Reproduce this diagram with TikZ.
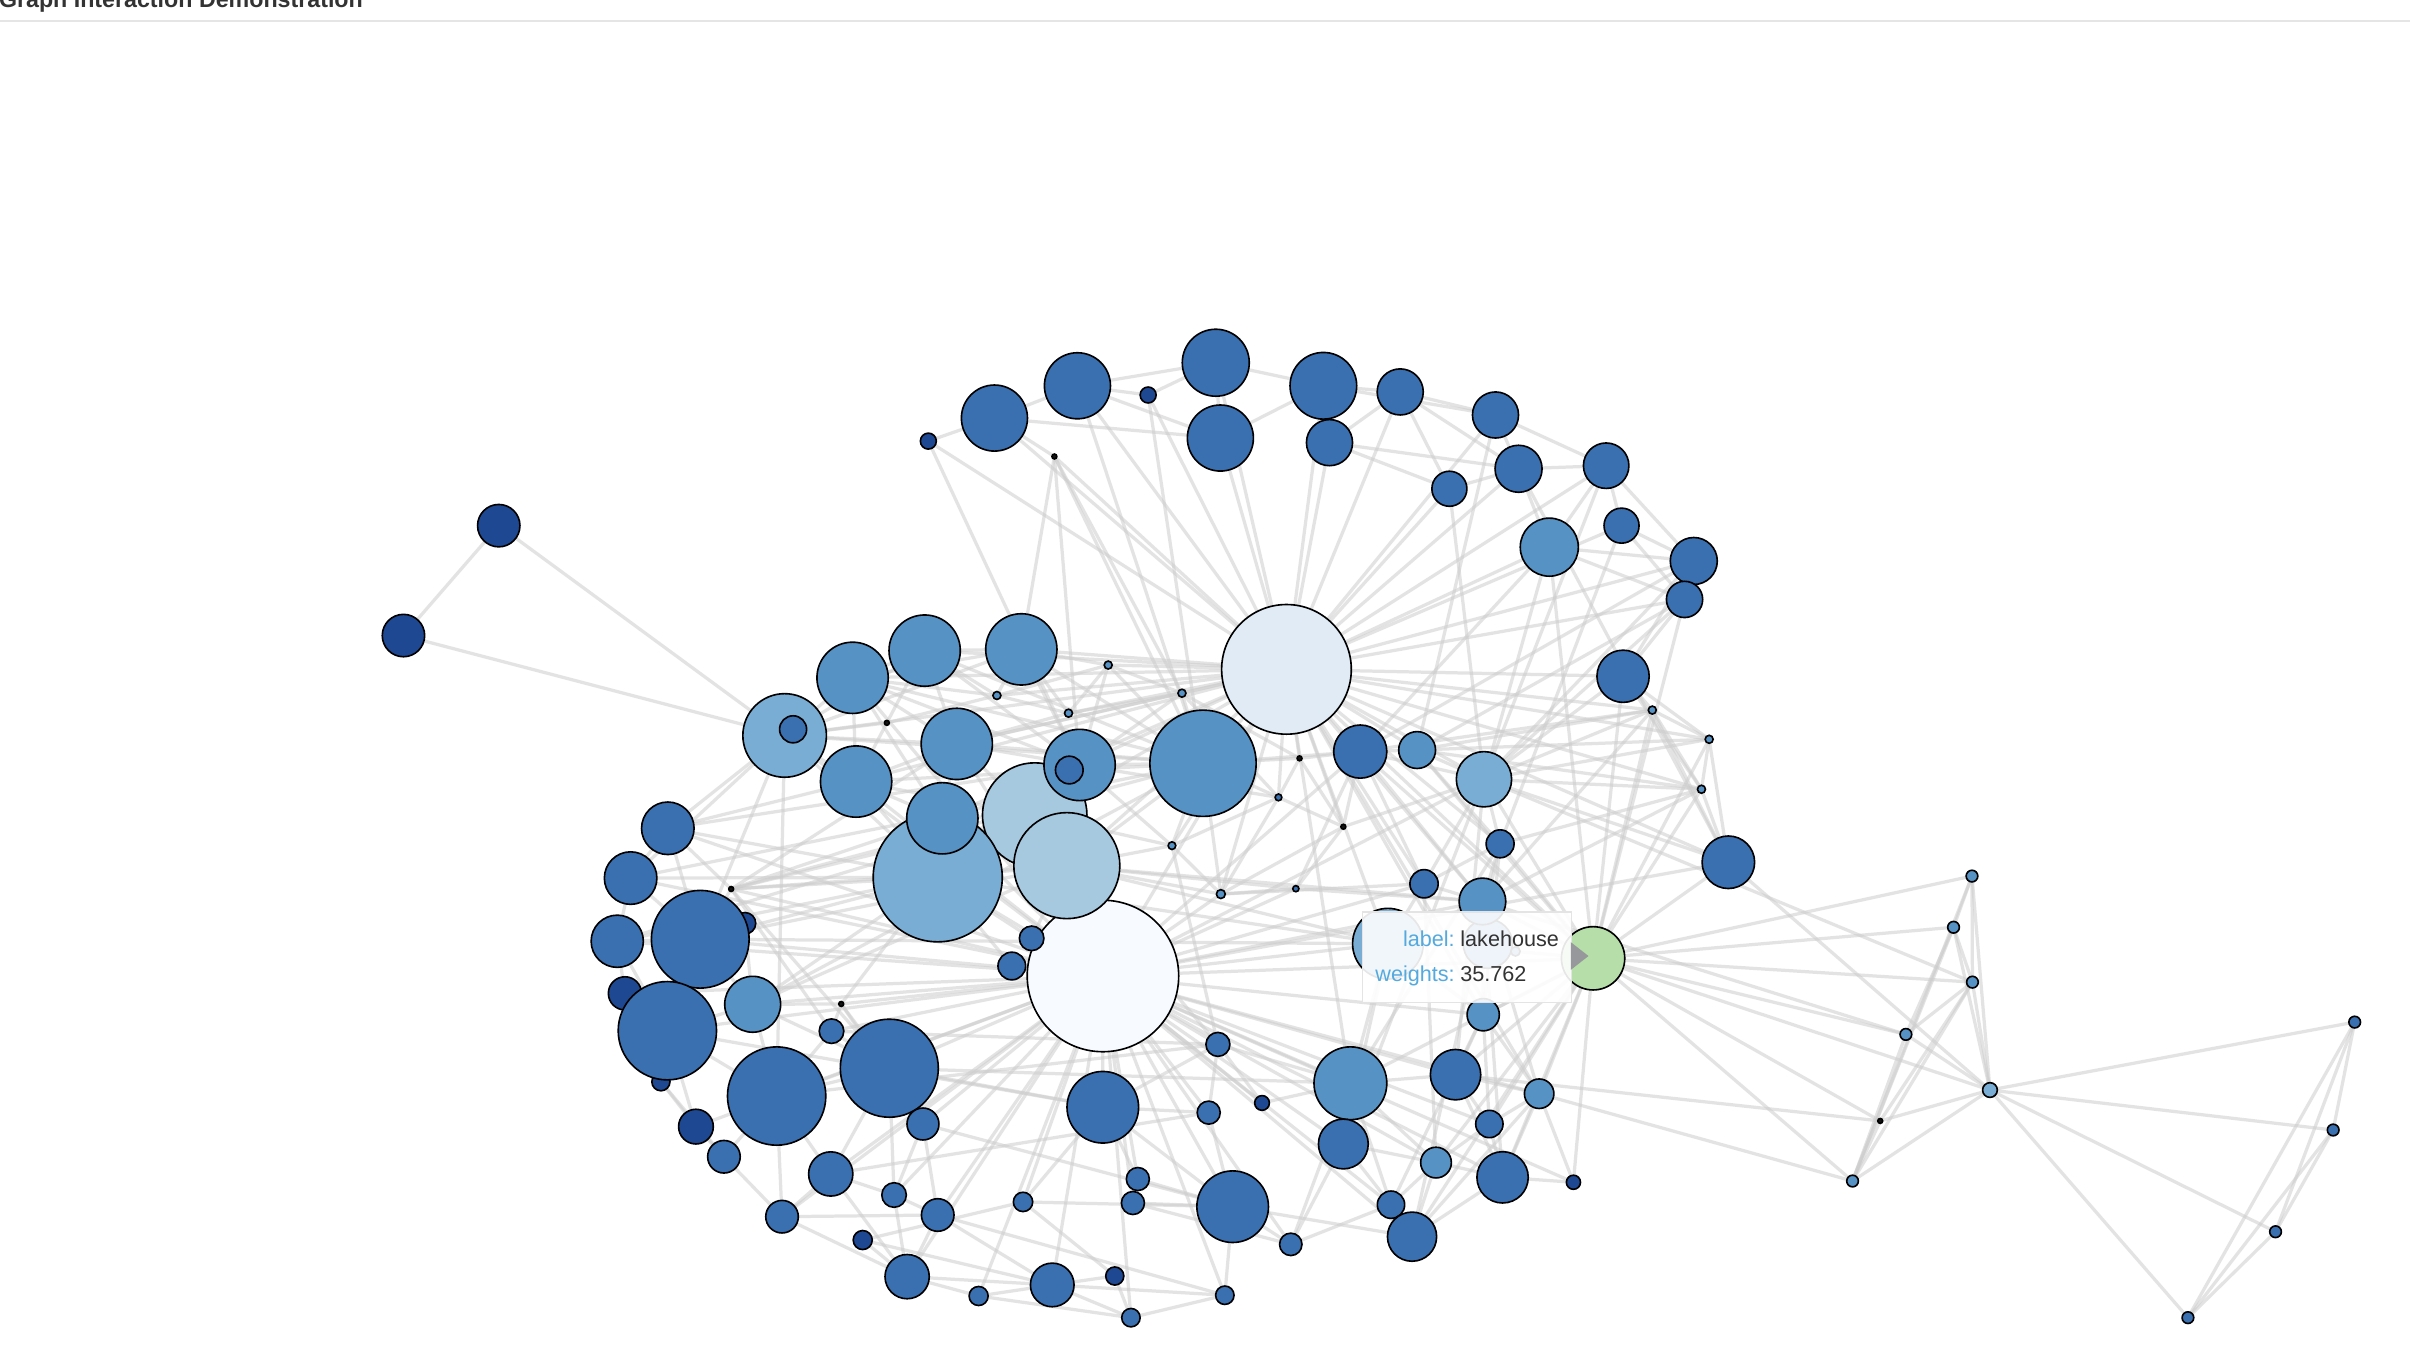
\documentclass[tikz,border=0pt]{standalone}
\usepackage{fontspec}
\setmainfont{Liberation Sans}
\usetikzlibrary{backgrounds}
\definecolor{cN}{RGB}{30,72,145}
\definecolor{cB}{RGB}{58,112,176}
\definecolor{cM}{RGB}{86,146,196}
\definecolor{cL}{RGB}{122,173,211}
\definecolor{cV}{RGB}{166,201,224}
\definecolor{cP}{RGB}{224,235,245}
\definecolor{cW}{RGB}{247,251,255}
\definecolor{cG}{RGB}{182,222,168}
\definecolor{cK}{RGB}{20,20,20}
\definecolor{edgecol}{RGB}{205,205,205}
\definecolor{tipblue}{RGB}{84,169,222}
\definecolor{tiptext}{RGB}{51,51,51}
\definecolor{ruleg}{RGB}{229,229,229}
\definecolor{tiparrow}{RGB}{150,152,156}
\pgfdeclarelayer{bg}
\pgfdeclarelayer{edges}
\pgfsetlayers{bg,edges,main}
\tikzset{
  gn/.style={circle,draw=black,line width=0.6pt,inner sep=0pt,outer sep=0pt},
  edge/.style={draw=edgecol,line width=1.2pt,opacity=0.55},
  tiplab/.style={text=tipblue,font=\fontsize{8pt}{10pt}\selectfont,inner sep=0pt},
  tipval/.style={text=tiptext,font=\fontsize{8pt}{10pt}\selectfont,inner sep=0pt}
}
\newcommand\gnode[5]{\node[gn,fill=#5,minimum size=#4*0.04cm] (#1) at (#2,#3) {};}
\begin{document}
\begin{tikzpicture}[x=0.02cm,y=-0.02cm]
\useasboundingbox (0,0) rectangle (1568,878);
\begin{pgfonlayer}{bg}
\fill[white] (0,0) rectangle (1568,878);
\end{pgfonlayer}
% title and rule
\node[anchor=base west,inner sep=0pt,text=tiptext,font=\fontsize{8.6pt}{10pt}\selectfont\bfseries] (title) at (-1,4.8) {Graph Interaction Demonstration};
\draw[ruleg,line width=0.75pt] (0,13.8) -- (1568,13.8);
% ---------- nodes ----------
\gnode{t1}{604}{287}{5.2}{cN}
\gnode{t2}{647}{272}{21.5}{cB}
\gnode{t3}{701}{251}{21.5}{cB}
\gnode{t4}{747}{257}{5.2}{cN}
\gnode{t5}{791}{236}{21.8}{cB}
\gnode{t6}{794}{285}{21.5}{cB}
\gnode{t7}{861}{251}{21.7}{cB}
\gnode{t8}{865}{288}{15}{cB}
\gnode{t9}{911}{255}{15}{cB}
\gnode{t10}{973}{270}{15}{cB}
\gnode{t11}{943}{318}{11.4}{cB}
\gnode{t12}{988}{305}{15.3}{cB}
\gnode{t13}{1045}{303}{14.8}{cB}
\gnode{t14}{1055}{342}{11.4}{cB}
\gnode{t15}{1008}{356}{18.9}{cM}
\gnode{t16}{1102}{365}{15.3}{cB}
\gnode{t17}{1096}{390}{11.8}{cB}
\gnode{d0}{686}{297}{1.6}{cK}
\gnode{n19}{324.5}{342}{13.8}{cN}
\gnode{n20}{262.5}{413.5}{13.8}{cN}
\gnode{A}{837}{435.5}{42.2}{cP}
\gnode{n94}{903}{614}{23}{cL}
\gnode{n94b}{968}{614}{16}{cM}
\gnode{n21}{1056}{440}{17}{cB}
\gnode{n22}{885}{489}{17.3}{cB}
\gnode{n23}{922}{488}{12}{cM}
\gnode{n24}{965.5}{507}{18}{cL}
\gnode{n25}{1124.5}{561}{17.1}{cB}
\gnode{n26}{976}{549}{9.1}{cB}
\gnode{n27}{926.5}{575}{9.2}{cB}
\gnode{n28}{964.5}{586.5}{15.2}{cM}
\gnode{n29}{1075}{462}{2.6}{cM}
\gnode{n30}{1112}{481}{2.6}{cM}
\gnode{n31}{1107}{513.5}{2.6}{cM}
\gnode{n32}{510.5}{478.5}{27.2}{cL}
\gnode{n32i}{516}{474.5}{8.8}{cB}
\gnode{n33}{554.7}{441}{23.2}{cM}
\gnode{n34}{601.6}{423.3}{23.2}{cM}
\gnode{n35}{664.5}{422.5}{23.2}{cM}
\gnode{n36}{557}{508.5}{23.2}{cM}
\gnode{n37}{622.5}{484}{23.2}{cM}
\gnode{n40}{673.2}{530.3}{34}{cV}
\gnode{n38}{702.4}{497.7}{23.2}{cM}
\gnode{n38i}{695.7}{501}{9}{cB}
\gnode{n39}{782.7}{496.6}{34.6}{cM}
\gnode{n41}{610.1}{570.8}{42}{cL}
\gnode{n42}{613.1}{532.4}{23.2}{cM}
\gnode{B}{717.6}{635}{49.3}{cW}
\gnode{n43}{694.1}{563.2}{34.5}{cV}
\gnode{n45}{671.2}{610.5}{8}{cB}
\gnode{n46}{658.3}{628.5}{9}{cB}
\gnode{d1}{721}{432.7}{2.6}{cM}
\gnode{d2}{648.6}{452.5}{2.6}{cM}
\gnode{d3}{695.2}{464}{2.6}{cM}
\gnode{d4}{769}{451}{2.6}{cM}
\gnode{d5}{577}{470.3}{1.6}{cK}
\gnode{d6}{845.5}{493.4}{1.6}{cK}
\gnode{d7}{831.8}{518.8}{2.2}{cB}
\gnode{d8}{874}{537.9}{1.6}{cK}
\gnode{d9}{762.5}{550.2}{2.5}{cM}
\gnode{d10}{794.3}{581.7}{2.9}{cM}
\gnode{d11}{843.1}{578.2}{2}{cB}
\gnode{d12}{475.7}{578.4}{1.6}{cK}
\gnode{d13}{547.3}{653.2}{1.6}{cK}
\gnode{d14}{986}{619}{3}{cM}
\gnode{n52}{484.7}{600.7}{7}{cN}
\gnode{n51}{455.6}{611.1}{31.8}{cB}
\gnode{n48}{434.5}{538.9}{17.1}{cB}
\gnode{n49}{410.3}{571.3}{17.1}{cB}
\gnode{n50}{401.6}{612.4}{17}{cB}
\gnode{n53}{406.6}{646.3}{10.8}{cN}
\gnode{n55}{430}{703.8}{5.9}{cN}
\gnode{n54}{434.2}{670.6}{32}{cB}
\gnode{n56}{489.7}{653.4}{18.2}{cM}
\gnode{n57}{541}{670.9}{8}{cB}
\gnode{n58}{505.3}{713.1}{32}{cB}
\gnode{n59}{578.6}{695}{31.9}{cB}
\gnode{n60}{452.8}{733}{11.3}{cN}
\gnode{n61}{471}{752.6}{10.6}{cB}
\gnode{n62}{540.5}{763.8}{14.4}{cB}
\gnode{n63}{600.5}{731.3}{10.4}{cB}
\gnode{n64}{508.8}{791.6}{10.6}{cB}
\gnode{n65}{581.7}{777.5}{8}{cB}
\gnode{n66}{610.1}{790.5}{10.6}{cB}
\gnode{n67}{561.3}{806.8}{6.2}{cN}
\gnode{n68}{590.2}{830.6}{14.4}{cB}
\gnode{n69}{636.7}{843.2}{6.2}{cB}
\gnode{n70}{684.6}{836}{14.2}{cB}
\gnode{n71}{725.3}{830.2}{5.9}{cN}
\gnode{n72}{735.8}{857.3}{6}{cB}
\gnode{n73}{796.9}{842.7}{6}{cB}
\gnode{n74}{665.6}{782}{6.3}{cB}
\gnode{n75}{740.3}{767.1}{7.5}{cB}
\gnode{n76}{737.1}{782.7}{7.5}{cB}
\gnode{n77}{717.5}{720.4}{23.3}{cB}
\gnode{n78}{802}{785.1}{23.3}{cB}
\gnode{n79}{839.8}{809.6}{7.3}{cB}
\gnode{n80}{786.4}{723.9}{7.5}{cB}
\gnode{n81}{821.1}{717.6}{4.8}{cN}
\gnode{n82}{792.4}{679.5}{7.8}{cB}
\gnode{n83}{878.6}{704.8}{23.7}{cM}
\gnode{n84}{874}{744.3}{16.2}{cB}
\gnode{n85}{947}{699.2}{16.4}{cB}
\gnode{n86}{969}{731.3}{8.9}{cB}
\gnode{n87}{1001.4}{711.6}{9.6}{cM}
\gnode{n88}{934.3}{756.4}{10}{cM}
\gnode{n89}{977.6}{766}{16.7}{cB}
\gnode{n90}{905}{783.8}{8.9}{cB}
\gnode{n91}{918.7}{804.6}{16}{cB}
\gnode{n92}{1023.7}{769.2}{4.6}{cN}
\gnode{n93}{965}{660.2}{10.5}{cM}
\gnode{L}{1036.5}{623.5}{20.6}{cG}
\gnode{n95}{1283}{570}{3.8}{cM}
\gnode{n96}{1271}{603.3}{3.8}{cM}
\gnode{n97}{1283.3}{639}{3.8}{cM}
\gnode{n98}{1240}{673}{3.8}{cM}
\gnode{n99}{1294.7}{709.2}{4.8}{cL}
\gnode{n100}{1223.3}{729.3}{1.6}{cK}
\gnode{n101}{1205.3}{768.4}{3.8}{cM}
\gnode{n102}{1532}{665}{3.8}{cB}
\gnode{n103}{1518}{735.2}{3.8}{cB}
\gnode{n104}{1480.5}{801.4}{3.8}{cB}
\gnode{n105}{1423.5}{857.3}{3.8}{cB}
% ---------- edges ----------
\begin{pgfonlayer}{edges}
\foreach \a/\b in {A/t1,A/t2,A/t3,A/t4,A/t5,A/t6,A/t7,A/t8,A/t9,A/t10,A/t11,A/t12,A/t15,A/t16,A/t17,A/d0,
  A/n21,A/n22,A/n23,A/n24,A/n25,A/n29,A/n30,A/n31,A/n33,A/n34,A/n35,A/n32,A/n37,A/n38,A/n39,A/d1,A/d2,A/d4,A/d3,
  A/n36,A/n42,A/n43,A/n40,A/B,A/d6,A/d7,A/d8,A/n26,A/n27,A/n28,A/L,A/n94,A/d9,A/d10,A/n83,A/n87,A/n93,A/t14,A/t13}
  \draw[edge] (\a) -- (\b);
\foreach \a/\b in {B/n41,B/n40,B/n42,B/n37,B/n36,B/n45,B/n46,B/n48,B/n49,B/n50,B/n51,B/n54,B/n56,B/n57,B/n58,B/n59,
  B/n62,B/n63,B/n64,B/n65,B/n66,B/n68,B/n69,B/n70,B/n72,B/n73,B/n74,B/n75,B/n76,B/n77,B/n78,B/n79,B/n80,B/n81,B/n82,
  B/n83,B/n84,B/n85,B/n86,B/n88,B/n89,B/n90,B/n91,B/n93,B/n94,B/L,B/n28,B/n27,B/d12,B/d13,B/d10,B/d11,B/n32,B/n33,
  B/n24,B/n22,B/n25,B/n53,B/n60,B/n87,B/n92}
  \draw[edge] (\a) -- (\b);
\foreach \a/\b in {L/n95,L/n96,L/n97,L/n98,L/n99,L/n100,L/n101,L/n21,L/n24,L/n26,L/n28,L/n29,L/n30,L/n25,L/n87,
  L/n89,L/n92,L/n93,L/n85,L/n86,L/n91,L/n88,L/n83,L/n22,L/n23,L/t15,L/t17,L/n31,L/d14}
  \draw[edge] (\a) -- (\b);
\foreach \a/\b in {n95/n96,n95/n97,n95/n99,n95/n101,n96/n97,n96/n99,n96/n101,n96/n98,n97/n98,n97/n99,n97/n100,
  n97/n101,n98/n99,n98/n101,n99/n100,n99/n101,n99/n102,n99/n103,n99/n104,n99/n105,n100/n101,n102/n103,n102/n104,
  n102/n105,n103/n104,n103/n105,n104/n105,n28/n98,n87/n101,n85/n100,n24/n97,n25/n99}
  \draw[edge] (\a) -- (\b);
\foreach \a/\b in {t1/t2,t2/t3,t2/t6,t3/t4,t3/t5,t3/t6,t4/t5,t5/t7,t5/t6,t6/t7,t7/t9,t7/t10,t8/t9,t8/t12,
  t9/t10,t9/t11,t10/t12,t10/t13,t11/t12,t12/t13,t12/t15,t13/t14,t13/t16,t14/t16,t14/t17,t15/t16,t15/t17,
  t13/t15,t2/d0,t1/n38,t4/n39,t3/n39,d0/n35,d0/n38,d0/n39,d0/d4,t11/n24,t15/n24,t15/n22,t12/n25,t16/n22,
  t17/n24,t17/n23,t16/n24,t14/n26,t10/n23,t13/n24,t16/n21,t17/n21,t8/t11,t9/t12}
  \draw[edge] (\a) -- (\b);
\foreach \a/\b in {n19/n20,n19/n32,n20/n32,
  n32/n33,n32/n36,n32/n34,n32/n48,n32/n49,n32/n51,n32/n58,n32/n41,n32/n37,n32/n35,n32/n39,n32/d5,
  n33/n34,n33/n36,n33/n37,n33/n38,n33/n35,n33/n39,n33/d2,n33/n42,
  n34/n35,n34/n37,n34/d2,n34/n38,n34/n39,n34/d5,
  n35/n38,n35/d2,n35/d3,n35/n39,n35/d1,
  n36/n37,n36/n42,n36/n41,n36/n39,n36/d5,n36/n40,
  n37/n38,n37/n39,n37/n42,n37/d3,n37/d4,n37/n40,
  n38/n39,n38/d4,n38/d1,n38/d9,n38/d7,
  n39/d4,n39/d6,n39/d7,n39/n43,n39/d9,n39/d10,n39/n22,
  n40/n41,n40/d9,n40/n42,
  n41/n43,n41/d12,n41/n51,n41/n50,n41/n56,n41/n45,n41/n46,n41/d13,
  n42/n43,n43/d10,n43/d9,n43/n45,n43/n82,n43/d11}
  \draw[edge] (\a) -- (\b);
\foreach \a/\b in {d1/d2,d1/d3,d1/d4,d1/n39,d2/d3,d2/d5,d3/d4,d4/d6,d4/d7,
  d6/d7,d6/d8,d7/d8,d7/d9,d7/d10,d8/d10,d8/d11,d9/d10,d10/d11,d8/n22,d8/n24,d6/n22,d11/n22,d10/n27,d11/n28,d9/n82,
  n22/n23,n22/n24,n23/n24,n24/n26,n24/n25,n24/n21,n24/n29,n24/n30,n24/n31,n21/n29,n21/n30,n25/n29,n25/n30,n25/n31,
  n29/n30,n29/n31,n30/n31,n22/n29,n23/n29,n23/n31,n26/n27,n26/n28,n27/n28,n28/n29,n27/n24,n26/n31,
  n22/n27,n22/n28,n23/n26,n28/n31,n21/n31,n23/n30}
  \draw[edge] (\a) -- (\b);
\foreach \a/\b in {n48/n49,n48/n51,n48/n36,n48/n41,n48/d12,n49/n50,n49/n51,n49/n41,n50/n51,n50/n53,n50/n54,
  n51/n54,n51/n56,n51/d12,n52/n56,n54/n56,n54/n58,n54/n60,n55/n60,n55/n61,n56/n58,n56/n59,n56/d13,
  n57/n58,n57/n59,n57/d13,n58/n59,n58/n61,n58/n62,n58/n64,n59/n62,n59/n63,n59/n65,n59/n77,n60/n61,n61/n64,
  n62/n64,n62/n65,n62/n68,n63/n66,n63/n65,n64/n66,n64/n68,n65/n66,n65/n68,n66/n68,n66/n70,n67/n70,n67/n68,
  n67/n74,n68/n69,n68/n70,n69/n70,n69/n72,n70/n71,n70/n72,n70/n73,n71/n72,n71/n74,n72/n73,n73/n78,n74/n77,
  n74/n78,n75/n77,n75/n78,n76/n78,n76/n79,n77/n78,n77/n80,n78/n79,n78/n80,n79/n83,n80/n82,n81/n82,n81/n83,
  n82/n77,d12/n39,d12/n43,d12/n40,d12/n57,d12/n59,d13/n59,d13/n63,d12/n37,d12/n42}
  \draw[edge] (\a) -- (\b);
\foreach \a/\b in {n83/n85,n83/n90,n83/n88,n83/n82,n84/n90,n84/n88,n85/n86,n85/n87,n85/n89,n85/n93,
  n86/n87,n86/n88,n86/n89,n87/n89,n87/n93,n88/n89,n88/n90,n88/n91,n89/n92,n89/n91,n91/n87,n93/n28,n93/n94,
  n94/n27,n94/n83,n94/n84,n92/n87,n93/n26,n87/n28,n86/n93,n84/n79,n90/n79,n91/n78,
  n51/n94,n51/n43,n50/n40,n56/n39,n58/n82,n59/n83,n62/n80,n63/n78,n66/n73,n41/n94,n43/n94,n43/n28,
  n49/n39,n48/n38,n54/n77,n56/n43,n57/n82,n84/n24,n85/n24,n89/n28,n91/n26,n90/n93,n88/n27,n83/n26}
  \draw[edge] (\a) -- (\b);
\end{pgfonlayer}
% ---------- tooltip ----------
\node[draw={rgb,255:red,228;green,228;blue,228},line width=0.5pt,fill=white,fill opacity=0.9,
  minimum width=136*0.02cm,minimum height=59*0.02cm,inner sep=0pt,anchor=north west] (tip) at (886,593) {};
\fill[tiparrow] (1022,613) -- (1033.5,622) -- (1022,631) -- cycle;
\node[tiplab,anchor=base east] (lab1) at (946.8,615.5) {label:};
\node[tipval,anchor=base west] (val1) at (949.8,615.5) {lakehouse};
\node[tiplab,anchor=base east] (lab2) at (946.8,638.5) {weights:};
\node[tipval,anchor=base west] (val2) at (949.8,638.5) {35.762};
\end{tikzpicture}
\end{document}
